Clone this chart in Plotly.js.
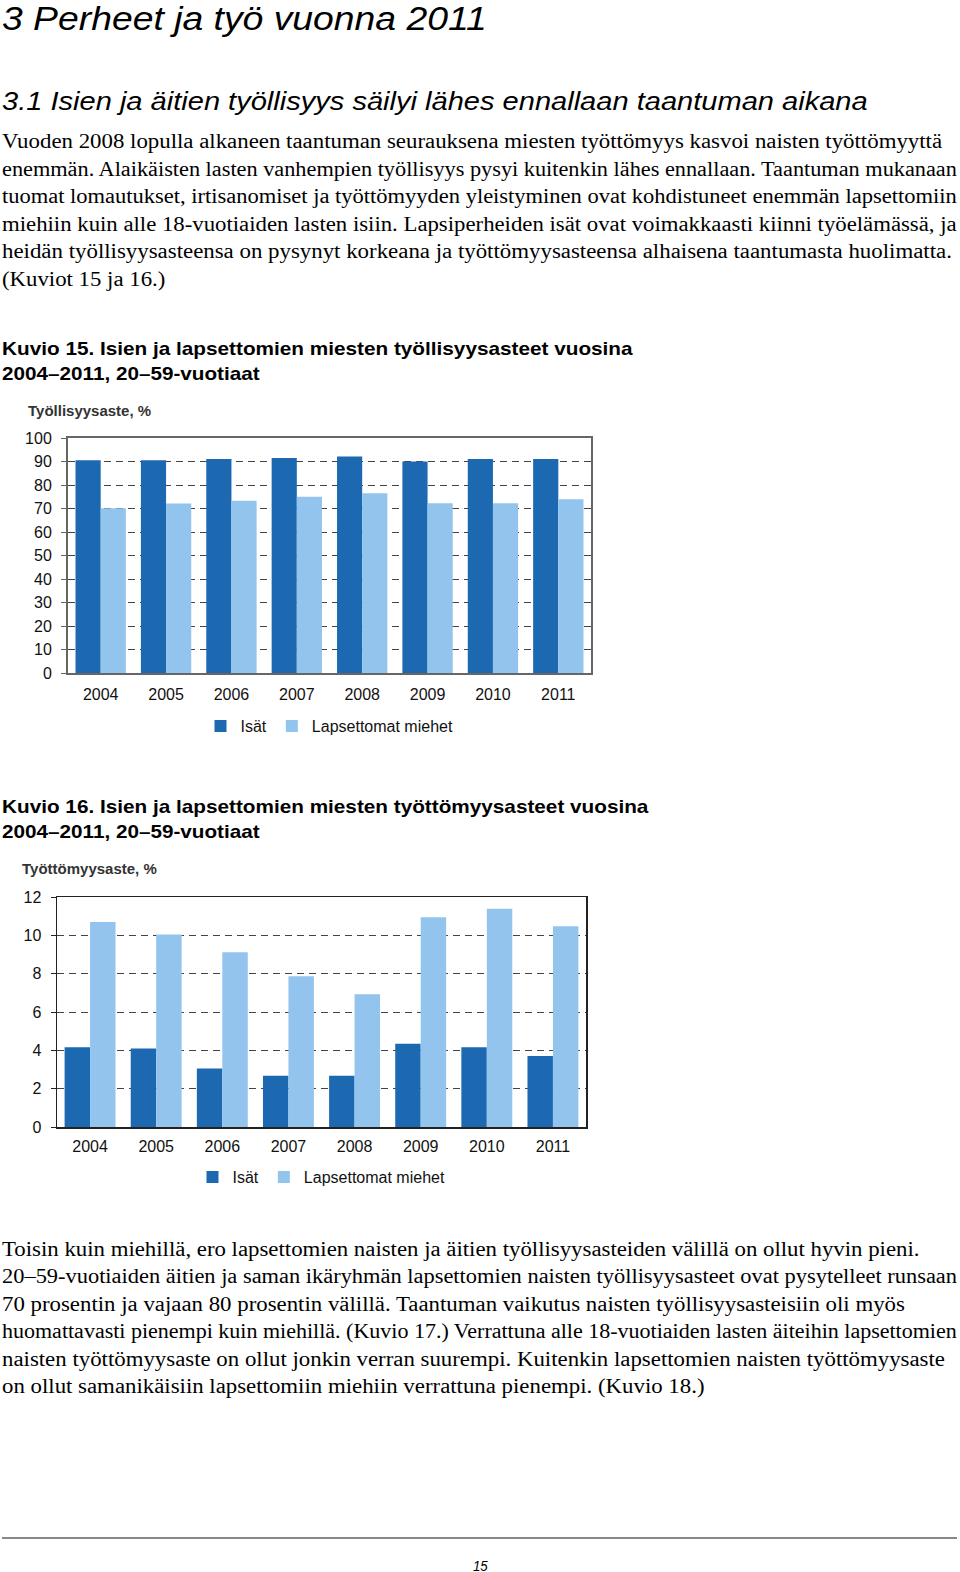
<!DOCTYPE html>
<html>
<head>
<meta charset="utf-8">
<script src="https://cdn.plot.ly/plotly-3.0.1.min.js"></script>
<style>
html,body{margin:0;padding:0;background:#fff;}
#page{position:relative;width:960px;height:1572px;overflow:hidden;background:#fff;}
.ln{position:absolute;white-space:nowrap;transform-origin:0 50%;color:#000;}
.serif{font-family:"Liberation Serif","Times New Roman",serif;font-size:20px;}
.h1{font-family:"Liberation Sans",Arial,sans-serif;font-style:italic;font-size:34px;}
.h2{font-family:"Liberation Sans",Arial,sans-serif;font-style:italic;font-size:26px;}
.cap{font-family:"Liberation Sans",Arial,sans-serif;font-weight:bold;font-size:19px;}
.pg{font-family:"Liberation Sans",Arial,sans-serif;font-style:italic;font-size:15px;}
.chart{position:absolute;}
#rule{position:absolute;left:2px;top:1537px;width:955px;height:2px;background:#888;}
</style>
</head>
<body>
<div id="page">
  <div id="rule"></div>
  <div id="c15" class="chart" style="left:0;top:395px;width:610px;height:350px;"></div>
  <div id="c16" class="chart" style="left:0;top:855px;width:600px;height:340px;"></div>
</div>
<script>
// ---- Data ----
var years = ["2004","2005","2006","2007","2008","2009","2010","2011"];
var seriesNames = ["Isät","Lapsettomat miehet"];
// Kuvio 15: työllisyysaste, %
var isatTyollisyys = [90.5, 90.5, 91.1, 91.5, 92.1, 90.0, 91.1, 91.1];
var lapsettomatTyollisyys = [70.1, 72.1, 73.3, 75.0, 76.5, 72.2, 72.2, 73.9];
// Kuvio 16: työttömyysaste, %
var isatTyottomyys = [4.16, 4.09, 3.05, 2.67, 2.67, 4.35, 4.16, 3.71];
var lapsettomatTyottomyys = [10.69, 10.04, 9.12, 7.87, 6.92, 10.94, 11.39, 10.47];

// ---- Text ----
var pageTitle = "3 Perheet ja työ vuonna 2011";
var sectionTitle = "3.1 Isien ja äitien työllisyys säilyi lähes ennallaan taantuman aikana";
var para1 = [
 "Vuoden 2008 lopulla alkaneen taantuman seurauksena miesten työttömyys kasvoi naisten työttömyyttä",
 "enemmän. Alaikäisten lasten vanhempien työllisyys pysyi kuitenkin lähes ennallaan. Taantuman mukanaan",
 "tuomat lomautukset, irtisanomiset ja työttömyyden yleistyminen ovat kohdistuneet enemmän lapsettomiin",
 "miehiin kuin alle 18-vuotiaiden lasten isiin. Lapsiperheiden isät ovat voimakkaasti kiinni työelämässä, ja",
 "heidän työllisyysasteensa on pysynyt korkeana ja työttömyysasteensa alhaisena taantumasta huolimatta.",
 "(Kuviot 15 ja 16.)"
];
var para1W = [940, 955, 955, 955, 950, 163];
var cap15 = ["Kuvio 15. Isien ja lapsettomien miesten työllisyysasteet vuosina","2004–2011, 20–59-vuotiaat"];
var cap16 = ["Kuvio 16. Isien ja lapsettomien miesten työttömyysasteet vuosina","2004–2011, 20–59-vuotiaat"];
var para2 = [
 "Toisin kuin miehillä, ero lapsettomien naisten ja äitien työllisyysasteiden välillä on ollut hyvin pieni.",
 "20–59-vuotiaiden äitien ja saman ikäryhmän lapsettomien naisten työllisyysasteet ovat pysytelleet runsaan",
 "70 prosentin ja vajaan 80 prosentin välillä. Taantuman vaikutus naisten työllisyysasteisiin oli myös",
 "huomattavasti pienempi kuin miehillä. (Kuvio 17.) Verrattuna alle 18-vuotiaiden lasten äiteihin lapsettomien",
 "naisten työttömyysaste on ollut jonkin verran suurempi. Kuitenkin lapsettomien naisten työttömyysaste",
 "on ollut samanikäisiin lapsettomiin miehiin verrattuna pienempi. (Kuvio 18.)"
];
var para2W = [918, 955, 903, 955, 943, 702];

var page = document.getElementById('page');
function place(text, cls, x, yc, w){
  var d = document.createElement('div');
  d.className = 'ln ' + cls;
  d.textContent = text;
  page.appendChild(d);
  var h = d.offsetHeight;
  d.style.left = x + 'px';
  d.style.top = (yc - h/2) + 'px';
  if (w) {
    var mw = d.offsetWidth;
    d.style.transform = 'scaleX(' + (w / mw) + ')';
  }
  return d;
}
place(pageTitle, 'h1', 2, 18, 485);
place(sectionTitle, 'h2', 2, 101, 866);
var y1 = [141.5, 169, 196.5, 224, 251.5, 279];
for (var i=0;i<para1.length;i++) place(para1[i], 'serif', 2, y1[i], para1W[i]);
place(cap15[0], 'cap', 2, 348.5, 631);
place(cap15[1], 'cap', 2, 373.5, 258);
place(cap16[0], 'cap', 2, 807, 646);
place(cap16[1], 'cap', 2, 832, 258);
var y2 = [1249, 1276.5, 1304, 1331.5, 1359, 1386.5];
for (var j=0;j<para2.length;j++) place(para2[j], 'serif', 2, y2[j], para2W[j]);
place("15", 'pg', 473, 1565, 15);

// ---- Charts ----
var dark = '#1c69b2', light = '#93c4ee';
var tickFont = {family:'"Liberation Sans", Arial, sans-serif', size:16, color:'#111'};

function makeChart(id, w, h, m, yv1, yv2, yrange, dtick, title, titleX, titleY, legY, xStand, frameColor, frameW){
  var traces = [
    {type:'bar', x:years, y:yv1, name:seriesNames[0], marker:{color:dark}},
    {type:'bar', x:years, y:yv2, name:seriesNames[1], marker:{color:light}}
  ];
  m.autoexpand = false;
  var layout = {
    width:w, height:h,
    margin:m,
    paper_bgcolor:'#fff', plot_bgcolor:'#fff',
    barmode:'group', bargap:0.23, bargroupgap:0,
    font:tickFont,
    title:{text:title, x:titleX, xref:'container', xanchor:'left', y:titleY, yref:'container', yanchor:'middle',
           font:{family:'"Liberation Sans", Arial, sans-serif', size:15, color:'#333', weight:'bold'}},
    xaxis:{type:'category', showline:true, mirror:true, linecolor:frameColor, linewidth:frameW, automargin:false,
           ticks:'', ticklabelstandoff:xStand, showgrid:false, tickfont:tickFont, fixedrange:true},
    yaxis:{range:yrange, dtick:dtick, tick0:0, showline:true, mirror:true, linecolor:frameColor, linewidth:frameW,
           automargin:false, ticks:'outside', ticklen:5, tickcolor:frameColor, ticklabelstandoff:6,
           showgrid:true, gridcolor:'#444', gridwidth:1,
           griddash:'7px,5px', zeroline:false, tickfont:tickFont, fixedrange:true},
    showlegend:true,
    legend:{orientation:'h', x:0.5, xanchor:'center', y:legY, yanchor:'middle', font:tickFont,
            itemwidth:30, tracegroupgap:0, bgcolor:'rgba(0,0,0,0)'}
  };
  Plotly.newPlot(id, traces, layout, {staticPlot:true, displayModeBar:false});
}
makeChart('c15', 610, 350, {l:68, r:19, t:43, b:72}, isatTyollisyys, lapsettomatTyollisyys,
          [0,100], 10, 'Työllisyysaste, %', 28/610, 1-16/350, -53/235, 6, '#666', 2);
makeChart('c16', 600, 340, {l:57, r:14, t:42, b:68}, isatTyottomyys, lapsettomatTyottomyys,
          [0,12], 2, 'Työttömyysaste, %', 22/600, 1-14/340, -50/230, 4, '#222', 1.5);
</script>
</body>
</html>
